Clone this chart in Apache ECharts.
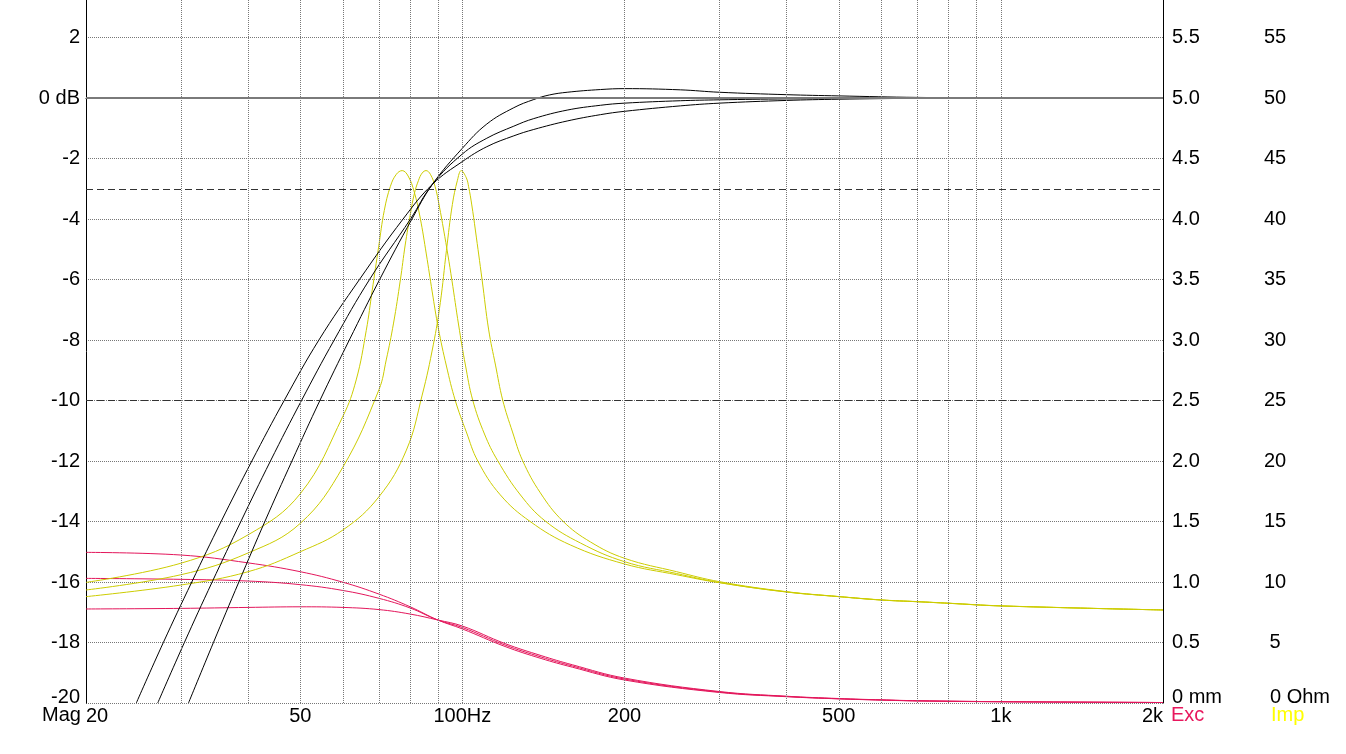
<!DOCTYPE html>
<html><head><meta charset="utf-8">
<script src="https://cdn.jsdelivr.net/npm/echarts@6/dist/echarts.min.js"></script>
<style>html,body{margin:0;padding:0;background:#fff}#c{width:1346px;height:754px}</style>
</head><body><div id="c"></div>
<script>
// SPL (dB) — three curves [Hz, dB]
const splLowQ = [[24.8,-20],[27.84,-18],[31.44,-16],[35.64,-14],[40.65,-12],[46.67,-10],[54.14,-8],[64.4,-6],[77.6,-4],[88,-2.85],[100,-2.1],[111,-1.61],[124.6,-1.25],[135.7,-1.04],[156.5,-0.76],[180.5,-0.55],[200,-0.44],[254,-0.26],[300,-0.17],[400,-0.08],[500,-0.04],[700,-0.01],[1000,0],[2000,0]];
const splMidQ = [[27.18,-20],[30.46,-18],[34.30,-16],[38.78,-14],[44.01,-12],[50.26,-10],[57.80,-8],[67.23,-6],[80.1,-4],[88,-2.85],[100,-1.85],[111,-1.33],[124.6,-0.93],[135.7,-0.68],[156.5,-0.40],[180.5,-0.24],[200,-0.17],[254,-0.09],[300,-0.06],[400,-0.03],[500,-0.015],[700,-0.005],[1000,0],[2000,0]];
const splHighQ = [[31.0,-20],[34.49,-18],[38.45,-16],[42.97,-14],[48.25,-12],[54.37,-10],[61.66,-8],[70.20,-6],[80.6,-4],[88,-2.85],[100,-1.66],[111,-0.86],[124.6,-0.32],[135.7,-0.05],[145,0.10],[156.5,0.19],[180.5,0.28],[200,0.31],[254,0.27],[300,0.19],[400,0.11],[500,0.07],[700,0.02],[1000,0.005],[2000,0]];

// Impedance (Ohm) — three curves [Hz, Ohm]
const impA = [[20,9.97],[30,11.55],[40,13.9],[50,17.3],[60,23.7],[63.5,26.7],[66.3,30.8],[68.0,34.1],[69.9,37.7],[71.6,40.7],[73.5,42.7],[75.4,43.7],[77.3,44.0],[79.3,43.55],[81.4,42.23],[83.5,40.08],[85.7,37.11],[87.9,33.97],[90.2,30.99],[93.4,27.85],[97.0,25.0],[101.7,22.4],[106.8,20.0],[117.6,17.2],[133.6,15.0],[158.7,13.06],[200,11.49],[250,10.6],[300,9.94],[400,9.17],[500,8.79],[600,8.51],[700,8.37],[800,8.24],[1000,8.02],[2000,7.69]];
const impB = [[20,9.34],[30,10.6],[40,12.4],[50,14.85],[60,19.5],[70,25.9],[72.2,28.35],[74.5,31.4],[76.7,34.96],[78.3,37.85],[80.1,40.47],[81.4,42.07],[82.9,43.2],[84.2,43.8],[85.6,44.0],[87.2,43.7],[89.0,42.67],[90.6,41.07],[92.3,39.09],[94.0,37.02],[95.6,34.96],[98.4,31.24],[101.3,27.93],[104.5,25.04],[109.9,22.23],[116.3,20.02],[128.2,17.19],[142.5,15.04],[165.7,13.22],[200,11.68],[250,10.7],[300,9.96],[400,9.18],[500,8.79],[600,8.51],[700,8.37],[800,8.24],[1000,8.02],[2000,7.69]];
const impC = [[20,8.79],[30,9.75],[40,10.85],[50,12.5],[60,14.3],[70,17.05],[78.7,20.9],[84.2,25.45],[88.3,29.6],[91.0,33.1],[93.4,37.4],[95.8,41.2],[97.9,43.2],[99.5,44.0],[101.7,43.4],[102.7,42.67],[104.1,41.16],[105.7,39.09],[108.8,34.96],[111.9,30.83],[115.2,27.93],[118.8,25.04],[123.9,22.4],[129.4,20.02],[139.6,17.36],[153.6,15.04],[172.9,13.31],[200,11.96],[250,10.85],[300,10.03],[400,9.2],[500,8.8],[600,8.52],[700,8.38],[800,8.25],[1000,8.03],[2000,7.69]];

// Excursion (mm) — three curves [Hz, mm]
const excA = [[20,1.245],[30,1.223],[40,1.158],[50,1.085],[60,0.998],[70,0.9],[80,0.795],[90,0.686],[100,0.612],[120,0.467],[140,0.368],[160,0.296],[200,0.190],[300,0.087],[400,0.052],[500,0.034],[600,0.024],[700,0.017],[1000,0.01],[2000,0.004]];
const excB = [[20,1.03],[30,1.022],[40,1.008],[50,0.978],[60,0.93],[70,0.865],[80,0.785],[90,0.686],[100,0.624],[120,0.479],[140,0.380],[160,0.306],[200,0.198],[300,0.091],[400,0.054],[500,0.035],[600,0.025],[700,0.018],[1000,0.011],[2000,0.004]];
const excC = [[20,0.777],[30,0.782],[40,0.79],[50,0.795],[60,0.79],[70,0.772],[80,0.735],[90,0.686],[100,0.636],[120,0.491],[140,0.392],[160,0.316],[200,0.206],[300,0.095],[400,0.056],[500,0.037],[600,0.026],[700,0.019],[1000,0.011],[2000,0.004]];

// Axis / grid definitions
const gridFreqs = [30,40,50,60,70,80,90,100,200,300,400,500,600,700,800,900,1000];
const freqLabels = [[20,'20'],[50,'50'],[100,'100Hz'],[200,'200'],[500,'500'],[1000,'1k'],[2000,'2k']];
const dashedDb = [-3,-10];

const FONT = 'Liberation Sans, Arial, sans-serif';
const FS = 20;
const chart = echarts.init(document.getElementById('c'), null, {renderer:'canvas'});

const vLines = gridFreqs.map(f => ({xAxis:f, lineStyle:{color:'#777', type:[1,1], width:1}, label:{show:false}}));
const lblLines = freqLabels.map(([f,t]) => ({
  xAxis:f,
  lineStyle:{color:'rgba(0,0,0,0)', width:1},
  label:{show:true, position:'start', formatter:t, color:'#000', fontFamily:FONT, fontSize:FS,
         align: f===20?'left':(f===2000?'right':'center'), distance:3}
}));
const hLines = [
  {yAxis:0, lineStyle:{color:'#7a7a7a', type:'solid', width:2}, label:{show:false}},
  ...dashedDb.map(v => ({yAxis:v, lineStyle:{color:'#333', type:[7,4], width:1}, label:{show:false}}))
];

function curve(data, color, yi){
  return {type:'line', data, yAxisIndex:yi, showSymbol:false, symbol:'none', smooth:0.4,
          lineStyle:{color, width:1}, itemStyle:{color}, z:3, silent:true, animation:false, clip:true};
}

const option = {
  animation:false,
  grid:{left:86, right:183, top:0, bottom:51, containLabel:false},
  xAxis:{type:'log', logBase:10, min:20, max:2000,
    axisLine:{show:true, lineStyle:{color:'#000', width:1}},
    axisTick:{show:false}, axisLabel:{show:false}, splitLine:{show:false}},
  yAxis:[
    {type:'value', min:-20, max:3.24, interval:2, position:'left',
     axisLine:{show:true, onZero:false, lineStyle:{color:'#000', width:1}}, axisTick:{show:false},
     splitLine:{show:true, showMaxLine:false, lineStyle:{color:'#777', type:[1,1], width:1}},
     axisLabel:{show:true, showMaxLabel:false, margin:6, color:'#000', fontFamily:FONT, fontSize:FS,
       formatter:v => v===0 ? '0 dB' : (v===-20 ? '{z|-20}' : String(v)),
       rich:{z:{fontFamily:FONT, fontSize:FS, color:'#000', padding:[0,0,11,0]}}}},
    {type:'value', min:0, max:5.81, interval:0.5, position:'right',
     axisLine:{show:true, onZero:false, lineStyle:{color:'#000', width:1}}, axisTick:{show:false},
     splitLine:{show:false},
     axisLabel:{show:true, showMaxLabel:false, margin:9, color:'#000', fontFamily:FONT, fontSize:FS,
       formatter:v => v===0 ? '{z|0 mm}' : v.toFixed(1),
       rich:{z:{fontFamily:FONT, fontSize:FS, color:'#000', padding:[0,0,11,0]}}}},
    {type:'value', min:0, max:58.1, interval:5, position:'right', offset:91,
     axisLine:{show:false}, axisTick:{show:false}, splitLine:{show:false},
     axisLabel:{show:true, showMaxLabel:false, margin:9, align:'left', color:'#000', fontFamily:FONT, fontSize:FS,
       formatter:v => v===0 ? '{z|0 Ohm}' : '{n|'+v+'}',
       rich:{
         n:{width:24, align:'center', fontFamily:FONT, fontSize:FS, color:'#000'},
         z:{fontFamily:FONT, fontSize:FS, color:'#000', padding:[0,0,11,7]}
       }}}
  ],
  graphic:[
    {type:'text', left:42, top:705, style:{text:'Mag', font:FS+'px '+FONT, fill:'#000'}},
    {type:'text', left:1171, top:705, style:{text:'Exc', font:FS+'px '+FONT, fill:'#e8175d'}},
    {type:'text', left:1271, top:705, style:{text:'Imp', font:FS+'px '+FONT, fill:'#ffff00'}}
  ],
  series:[
    {type:'line', data:[], yAxisIndex:0, z:1, silent:true, animation:false,
     markLine:{silent:true, animation:false, symbol:['none','none'], data:[...vLines, ...hLines, ...lblLines]}},
    curve(excA,'#e3165b',1), curve(excB,'#e3165b',1), curve(excC,'#e3165b',1),
    curve(impA,'#cccc00',2), curve(impB,'#cccc00',2), curve(impC,'#cccc00',2),
    curve(splLowQ,'#000',0), curve(splMidQ,'#000',0), curve(splHighQ,'#000',0)
  ]
};
chart.setOption(option);
</script></body></html>
